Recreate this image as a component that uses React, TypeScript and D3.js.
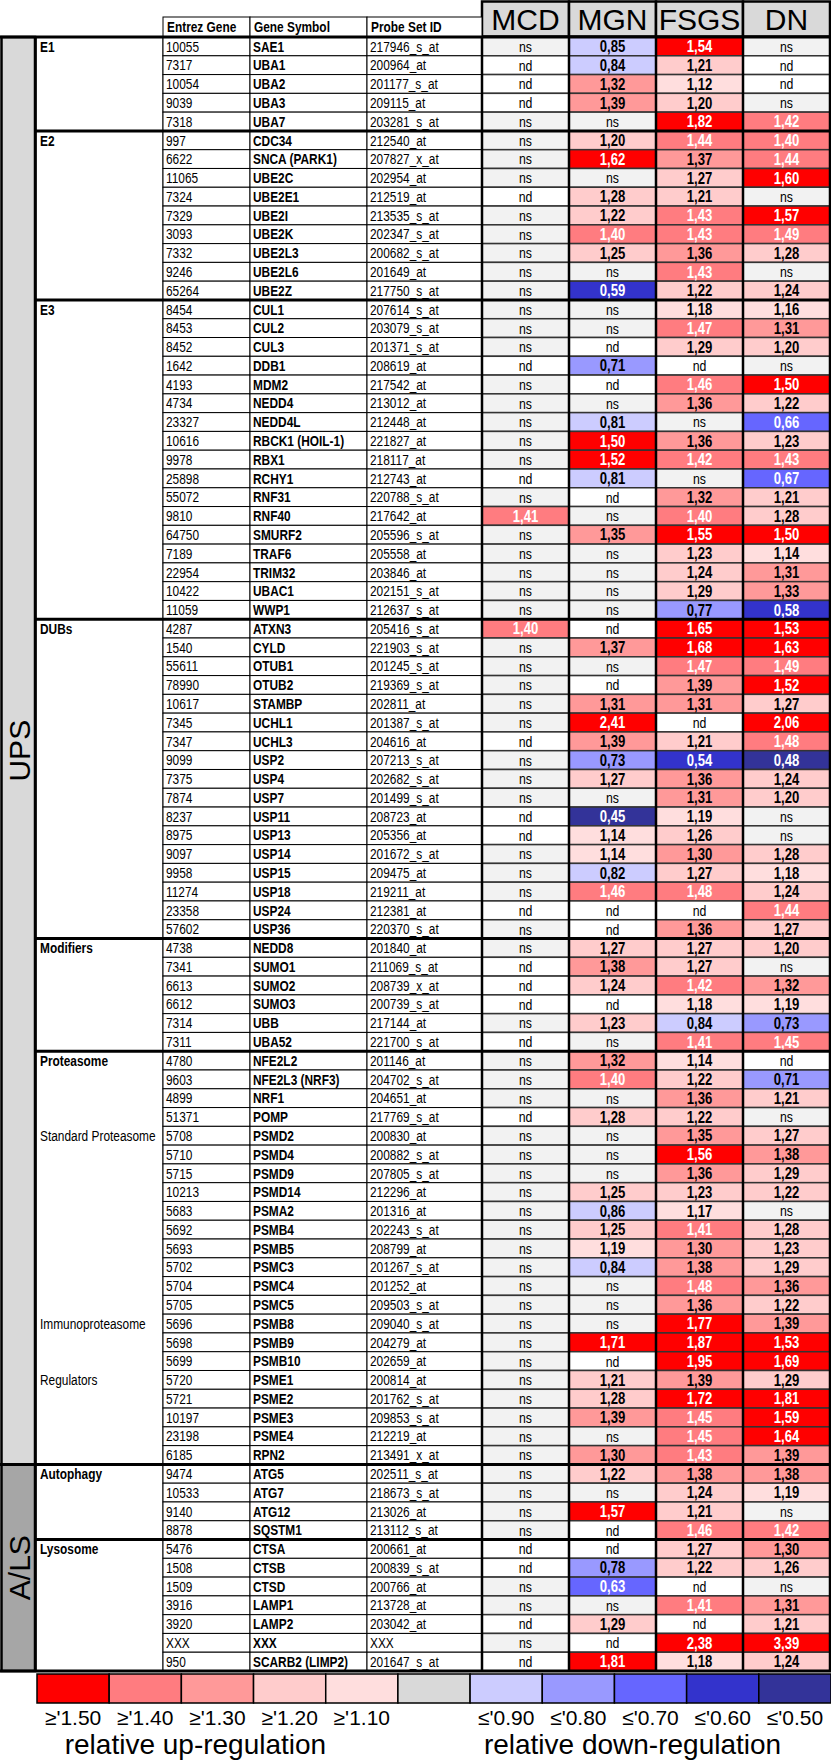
import React, { useRef, useEffect } from 'react';
import * as d3 from 'd3';

// groups (row counts in table order)
const groupNames = ['E1', 'E2', 'E3', 'DUBs', 'Modifiers', 'Proteasome', 'Autophagy', 'Lysosome'];
const groupSizes = [5, 9, 17, 17, 6, 22, 4, 7];
const sectionNames = ['UPS', 'A/LS'];
const sectionGroupCounts = [6, 2];
const subLabels = ['Standard Proteasome', 'Immunoproteasome', 'Regulators'];
const subLabelGenes = ['PSMD2', 'PSMB8', 'PSME1'];

const entrez = [
  '10055', '7317', '10054', '9039', '7318',
  '997', '6622', '11065', '7324', '7329', '3093', '7332', '9246', '65264',
  '8454', '8453', '8452', '1642', '4193', '4734', '23327', '10616', '9978', '25898', '55072', '9810', '64750', '7189', '22954', '10422', '11059',
  '4287', '1540', '55611', '78990', '10617', '7345', '7347', '9099', '7375', '7874', '8237', '8975', '9097', '9958', '11274', '23358', '57602',
  '4738', '7341', '6613', '6612', '7314', '7311',
  '4780', '9603', '4899', '51371', '5708', '5710', '5715', '10213', '5683', '5692', '5693', '5702', '5704', '5705', '5696', '5698', '5699', '5720', '5721', '10197', '23198', '6185',
  '9474', '10533', '9140', '8878',
  '5476', '1508', '1509', '3916', '3920', 'XXX', '950',
];

const symbols = [
  'SAE1', 'UBA1', 'UBA2', 'UBA3', 'UBA7',
  'CDC34', 'SNCA (PARK1)', 'UBE2C', 'UBE2E1', 'UBE2I', 'UBE2K', 'UBE2L3', 'UBE2L6', 'UBE2Z',
  'CUL1', 'CUL2', 'CUL3', 'DDB1', 'MDM2', 'NEDD4', 'NEDD4L', 'RBCK1 (HOIL-1)', 'RBX1', 'RCHY1', 'RNF31', 'RNF40', 'SMURF2', 'TRAF6', 'TRIM32', 'UBAC1', 'WWP1',
  'ATXN3', 'CYLD', 'OTUB1', 'OTUB2', 'STAMBP', 'UCHL1', 'UCHL3', 'USP2', 'USP4', 'USP7', 'USP11', 'USP13', 'USP14', 'USP15', 'USP18', 'USP24', 'USP36',
  'NEDD8', 'SUMO1', 'SUMO2', 'SUMO3', 'UBB', 'UBA52',
  'NFE2L2', 'NFE2L3 (NRF3)', 'NRF1', 'POMP', 'PSMD2', 'PSMD4', 'PSMD9', 'PSMD14', 'PSMA2', 'PSMB4', 'PSMB5', 'PSMC3', 'PSMC4', 'PSMC5', 'PSMB8', 'PSMB9', 'PSMB10', 'PSME1', 'PSME2', 'PSME3', 'PSME4', 'RPN2',
  'ATG5', 'ATG7', 'ATG12', 'SQSTM1',
  'CTSA', 'CTSB', 'CTSD', 'LAMP1', 'LAMP2', 'XXX', 'SCARB2 (LIMP2)',
];

const probes = [
  '217946_s_at', '200964_at', '201177_s_at', '209115_at', '203281_s_at',
  '212540_at', '207827_x_at', '202954_at', '212519_at', '213535_s_at', '202347_s_at', '200682_s_at', '201649_at', '217750_s_at',
  '207614_s_at', '203079_s_at', '201371_s_at', '208619_at', '217542_at', '213012_at', '212448_at', '221827_at', '218117_at', '212743_at', '220788_s_at', '217642_at', '205596_s_at', '205558_at', '203846_at', '202151_s_at', '212637_s_at',
  '205416_s_at', '221903_s_at', '201245_s_at', '219369_s_at', '202811_at', '201387_s_at', '204616_at', '207213_s_at', '202682_s_at', '201499_s_at', '208723_at', '205356_at', '201672_s_at', '209475_at', '219211_at', '212381_at', '220370_s_at',
  '201840_at', '211069_s_at', '208739_x_at', '200739_s_at', '217144_at', '221700_s_at',
  '201146_at', '204702_s_at', '204651_at', '217769_s_at', '200830_at', '200882_s_at', '207805_s_at', '212296_at', '201316_at', '202243_s_at', '208799_at', '201267_s_at', '201252_at', '209503_s_at', '209040_s_at', '204279_at', '202659_at', '200814_at', '201762_s_at', '209853_s_at', '212219_at', '213491_x_at',
  '202511_s_at', '218673_s_at', '213026_at', '213112_s_at',
  '200661_at', '200839_s_at', '200766_at', '213728_at', '203042_at', 'XXX', '201647_s_at',
];

type Cell = number | 'ns' | 'nd';

const mcd: Cell[] = [
  'ns', 'nd', 'nd', 'nd', 'ns',
  'ns', 'ns', 'ns', 'nd', 'ns', 'ns', 'ns', 'ns', 'ns',
  'ns', 'ns', 'ns', 'nd', 'ns', 'ns', 'ns', 'ns', 'ns', 'nd', 'ns', 1.41, 'ns', 'ns', 'ns', 'ns', 'ns',
  1.40, 'ns', 'ns', 'ns', 'ns', 'ns', 'nd', 'ns', 'ns', 'ns', 'nd', 'nd', 'ns', 'ns', 'ns', 'nd', 'ns',
  'ns', 'nd', 'nd', 'nd', 'ns', 'nd',
  'ns', 'ns', 'ns', 'nd', 'ns', 'ns', 'ns', 'ns', 'ns', 'ns', 'ns', 'ns', 'ns', 'ns', 'ns', 'ns', 'ns', 'ns', 'ns', 'ns', 'ns', 'ns',
  'ns', 'ns', 'ns', 'ns',
  'nd', 'nd', 'ns', 'ns', 'nd', 'ns', 'nd',
];

const mgn: Cell[] = [
  0.85, 0.84, 1.32, 1.39, 'ns',
  1.20, 1.62, 'ns', 1.28, 1.22, 1.40, 1.25, 'ns', 0.59,
  'ns', 'ns', 'nd', 0.71, 'nd', 'ns', 0.81, 1.50, 1.52, 0.81, 'nd', 'ns', 1.35, 'ns', 'ns', 'ns', 'ns',
  'nd', 1.37, 'ns', 'nd', 1.31, 2.41, 1.39, 0.73, 1.27, 'ns', 0.45, 1.14, 1.14, 0.82, 1.46, 'nd', 'nd',
  1.27, 1.38, 1.24, 'nd', 1.23, 'ns',
  1.32, 1.40, 'ns', 1.28, 'ns', 'ns', 'ns', 1.25, 0.86, 1.25, 1.19, 0.84, 'ns', 'ns', 'ns', 1.71, 'nd', 1.21, 1.28, 1.39, 'ns', 1.30,
  1.22, 'ns', 1.57, 'nd',
  'nd', 0.78, 0.63, 'ns', 1.29, 'nd', 1.81,
];

const fsgs: Cell[] = [
  1.54, 1.21, 1.12, 1.20, 1.82,
  1.44, 1.37, 1.27, 1.21, 1.43, 1.43, 1.36, 1.43, 1.22,
  1.18, 1.47, 1.29, 'nd', 1.46, 1.36, 'ns', 1.36, 1.42, 'ns', 1.32, 1.40, 1.55, 1.23, 1.24, 1.29, 0.77,
  1.65, 1.68, 1.47, 1.39, 1.31, 'nd', 1.21, 0.54, 1.36, 1.31, 1.19, 1.26, 1.30, 1.27, 1.48, 'nd', 1.36,
  1.27, 1.27, 1.42, 1.18, 0.84, 1.41,
  1.14, 1.22, 1.36, 1.22, 1.35, 1.56, 1.36, 1.23, 1.17, 1.41, 1.30, 1.38, 1.48, 1.36, 1.77, 1.87, 1.95, 1.39, 1.72, 1.45, 1.45, 1.43,
  1.38, 1.24, 1.21, 1.46,
  1.27, 1.22, 'nd', 1.41, 'nd', 2.38, 1.18,
];

const dn: Cell[] = [
  'ns', 'nd', 'nd', 'ns', 1.42,
  1.40, 1.44, 1.60, 'ns', 1.57, 1.49, 1.28, 'ns', 1.24,
  1.16, 1.31, 1.20, 'ns', 1.50, 1.22, 0.66, 1.23, 1.43, 0.67, 1.21, 1.28, 1.50, 1.14, 1.31, 1.33, 0.58,
  1.53, 1.63, 1.49, 1.52, 1.27, 2.06, 1.48, 0.48, 1.24, 1.20, 'ns', 'ns', 1.28, 1.18, 1.24, 1.44, 1.27,
  1.20, 'ns', 1.32, 1.19, 0.73, 1.45,
  'nd', 0.71, 1.21, 'ns', 1.27, 1.38, 1.29, 1.22, 'ns', 1.28, 1.23, 1.29, 1.36, 1.22, 1.39, 1.53, 1.69, 1.29, 1.81, 1.59, 1.64, 1.39,
  1.38, 1.19, 'ns', 1.42,
  1.30, 1.26, 'ns', 1.31, 1.21, 3.39, 1.24,
];

const diseases = ['MCD', 'MGN', 'FSGS', 'DN'];
const columnHeaders = ['Entrez Gene', 'Gene Symbol', 'Probe Set ID'];

// colour classes (in hundredths)
const classBreaks = [51, 61, 71, 81, 91, 110, 120, 130, 140, 150];
const classColors = ['#333399', '#3333cc', '#6666ff', '#9999ff', '#ccccff', '#f2f2f2', '#ffdede', '#ffcccc', '#ff9999', '#ff7c80', '#ff0000'];
const legendLabels = ['≥\'1.50', '≥\'1.40', '≥\'1.30', '≥\'1.20', '≥\'1.10', '', '≤\'0.90', '≤\'0.80', '≤\'0.70', '≤\'0.60', '≤\'0.50'];
const legendColors = ['#ff0000', '#ff7c80', '#ff9999', '#ffcccc', '#ffdede', '#d9d9d9', '#ccccff', '#9999ff', '#6666ff', '#3333cc', '#333399'];

const SANS = "'Liberation Sans', Arial, sans-serif";
const SQUEEZE = 0.82; // Arial Narrow look-alike

const W = 831;
const H = 1764;

const HeatTable: React.FC = () => {
  const svgRef = useRef<SVGSVGElement | null>(null);

  useEffect(() => {
    if (!svgRef.current) return;
    const svg = d3.select(svgRef.current);
    svg.selectAll('*').remove();

    const nRows = symbols.length;
    const top = 37;
    const bottom = 1671;
    const barL = 1.5, barR = 35;
    const grpL = 36, entL = 163, symL = 250, prbL = 367, valL = 482, valR = 830;

    const y = d3.scaleBand<number>().domain(d3.range(nRows)).range([top, bottom]);
    const x = d3.scaleBand<string>().domain(diseases).range([valL, valR]);
    const rh = y.bandwidth();
    const color = d3.scaleThreshold<number, string>().domain(classBreaks).range(classColors);
    const fmt = (v: number) => d3.format('.2f')(v).replace('.', ',');
    const sq = (tx: number, ty: number) => `translate(${tx},${ty}) scale(${SQUEEZE},1)`;

    const groupStart = groupSizes.map((_, i) => d3.sum(groupSizes.slice(0, i)));
    const sectionStartGroup = sectionGroupCounts.map((_, i) => d3.sum(sectionGroupCounts.slice(0, i)));

    // header
    const hdr = svg.append('g');
    diseases.forEach((d) => {
      hdr.append('rect').attr('x', x(d)!).attr('y', 1.5).attr('width', x.bandwidth()).attr('height', top - 2)
        .attr('fill', '#d9d9d9').attr('stroke', '#000').attr('stroke-width', 2.5);
      hdr.append('text').attr('x', x(d)! + x.bandwidth() / 2).attr('y', 30).attr('text-anchor', 'middle')
        .attr('font-family', SANS).attr('font-size', 30).text(d);
    });
    const leftCols = [entL, symL, prbL, valL];
    columnHeaders.forEach((h, i) => {
      hdr.append('rect').attr('x', leftCols[i]).attr('y', 17).attr('width', leftCols[i + 1] - leftCols[i]).attr('height', top - 17)
        .attr('fill', '#fff').attr('stroke', '#000').attr('stroke-width', 1);
      hdr.append('text').attr('transform', sq(leftCols[i] + 4, 32)).attr('font-family', SANS).attr('font-weight', 'bold')
        .attr('font-size', 14.5).text(h);
    });

    // left section bars
    sectionNames.forEach((s, i) => {
      const g0 = sectionStartGroup[i];
      const g1 = g0 + sectionGroupCounts[i] - 1;
      const r0 = groupStart[g0];
      const r1 = groupStart[g1] + groupSizes[g1] - 1;
      const y0 = y(r0)!;
      const y1 = y(r1)! + rh;
      svg.append('rect').attr('x', barL).attr('y', y0).attr('width', barR - barL).attr('height', y1 - y0)
        .attr('fill', i === 0 ? '#d9d9d9' : '#a6a6a6').attr('stroke', '#000').attr('stroke-width', 2.5);
      svg.append('text').attr('transform', `translate(${(barL + barR) / 2 + 1},${(y0 + y1) / 2}) rotate(-90)`)
        .attr('text-anchor', 'middle').attr('dy', '0.36em').attr('font-family', SANS).attr('font-size', 30).text(s);
    });

    // group column
    groupNames.forEach((gname, i) => {
      const y0 = y(groupStart[i])!;
      const y1 = y(groupStart[i] + groupSizes[i] - 1)! + rh;
      svg.append('rect').attr('x', grpL).attr('y', y0).attr('width', entL - grpL).attr('height', y1 - y0)
        .attr('fill', '#fff').attr('stroke', '#000').attr('stroke-width', 1);
      svg.append('text').attr('transform', sq(grpL + 4, y0 + rh / 2)).attr('dy', '0.36em')
        .attr('font-family', SANS).attr('font-weight', 'bold').attr('font-size', 14.5).text(gname);
    });
    subLabels.forEach((lab, i) => {
      const r = symbols.indexOf(subLabelGenes[i]);
      svg.append('text').attr('transform', sq(grpL + 4, y(r)! + rh / 2)).attr('dy', '0.36em')
        .attr('font-family', SANS).attr('font-size', 14.5).text(lab);
    });

    // left data cells
    const rows = d3.range(nRows);
    const leftData = [entrez, symbols, probes];
    leftData.forEach((col, ci) => {
      const g = svg.append('g');
      g.selectAll('rect').data(rows).join('rect')
        .attr('x', leftCols[ci]).attr('y', (r) => y(r)!).attr('width', leftCols[ci + 1] - leftCols[ci]).attr('height', rh)
        .attr('fill', '#fff').attr('stroke', '#000').attr('stroke-width', 1);
      g.selectAll('text').data(rows).join('text')
        .attr('transform', (r) => sq(leftCols[ci] + 3, y(r)! + rh / 2)).attr('dy', '0.36em')
        .attr('font-family', SANS).attr('font-size', 14.5).attr('font-weight', ci === 1 ? 'bold' : 'normal')
        .text((r) => col[r]);
    });

    // value cells
    const valueData = [mcd, mgn, fsgs, dn];
    valueData.forEach((col, ci) => {
      const d = diseases[ci];
      const g = svg.append('g');
      g.selectAll('rect').data(rows).join('rect')
        .attr('x', x(d)!).attr('y', (r) => y(r)!).attr('width', x.bandwidth()).attr('height', rh)
        .attr('fill', (r) => {
          const v = col[r];
          if (v === 'ns') return '#f2f2f2';
          if (v === 'nd') return '#fff';
          return color(Math.round(v * 100));
        })
        .attr('stroke', '#333').attr('stroke-width', 1.5);
      g.selectAll('text').data(rows).join('text')
        .attr('transform', (r) => sq(x(d)! + x.bandwidth() / 2, y(r)! + rh / 2)).attr('dy', '0.36em')
        .attr('text-anchor', 'middle').attr('font-family', SANS)
        .attr('font-size', (r) => (typeof col[r] === 'number' ? 16 : 15))
        .attr('font-weight', (r) => (typeof col[r] === 'number' ? 'bold' : 'normal'))
        .attr('fill', (r) => {
          const v = col[r];
          if (typeof v !== 'number') return '#000';
          return v >= 1.4 || v <= 0.7 ? '#fff' : '#000';
        })
        .text((r) => {
          const v = col[r];
          return typeof v === 'number' ? fmt(v) : v;
        });
    });

    // column separators in value area
    const sepX = [...diseases.map((d) => x(d)!), valR];
    sepX.forEach((sx) => {
      svg.append('line').attr('x1', sx).attr('x2', sx).attr('y1', top).attr('y2', bottom)
        .attr('stroke', '#000').attr('stroke-width', 2.5);
    });

    // group separators
    groupStart.forEach((r, i) => {
      const isSection = sectionStartGroup.includes(i);
      const yy = y(r)!;
      svg.append('line').attr('x1', isSection ? 0 : grpL - 1).attr('x2', W).attr('y1', yy).attr('y2', yy)
        .attr('stroke', '#000').attr('stroke-width', 3);
    });
    svg.append('line').attr('x1', 0).attr('x2', W).attr('y1', bottom).attr('y2', bottom)
      .attr('stroke', '#000').attr('stroke-width', 3);
    svg.append('line').attr('x1', grpL - 0.5).attr('x2', grpL - 0.5).attr('y1', top).attr('y2', bottom)
      .attr('stroke', '#000').attr('stroke-width', 2.5);

    // legend
    const lx = d3.scaleBand<number>().domain(d3.range(legendColors.length)).range([37, W]);
    const lg = svg.append('g');
    lg.selectAll('rect').data(legendColors).join('rect')
      .attr('x', (_, i) => lx(i)!).attr('y', 1674).attr('width', lx.bandwidth()).attr('height', 29)
      .attr('fill', (c) => c).attr('stroke', '#000').attr('stroke-width', 1.5);
    lg.selectAll('text').data(legendLabels).join('text')
      .attr('x', (_, i) => lx(i)! + lx.bandwidth() / 2).attr('y', 1725).attr('text-anchor', 'middle')
      .attr('font-family', SANS).attr('font-size', 21).text((t) => t);
    const upMid = (lx(0)! + lx(4)! + lx.bandwidth()) / 2 - 22;
    const downMid = (lx(6)! + lx(10)! + lx.bandwidth()) / 2 - 18;
    lg.append('text').attr('x', upMid).attr('y', 1754).attr('text-anchor', 'middle')
      .attr('font-family', SANS).attr('font-size', 28).text('relative up-regulation');
    lg.append('text').attr('x', downMid).attr('y', 1754).attr('text-anchor', 'middle')
      .attr('font-family', SANS).attr('font-size', 28).text('relative down-regulation');
  }, []);

  return <svg ref={svgRef} width={W} height={H} style={{ position: 'absolute', left: 0, top: 0, background: '#fff' }} />;
};

export default function App() {
  return <HeatTable />;
}
